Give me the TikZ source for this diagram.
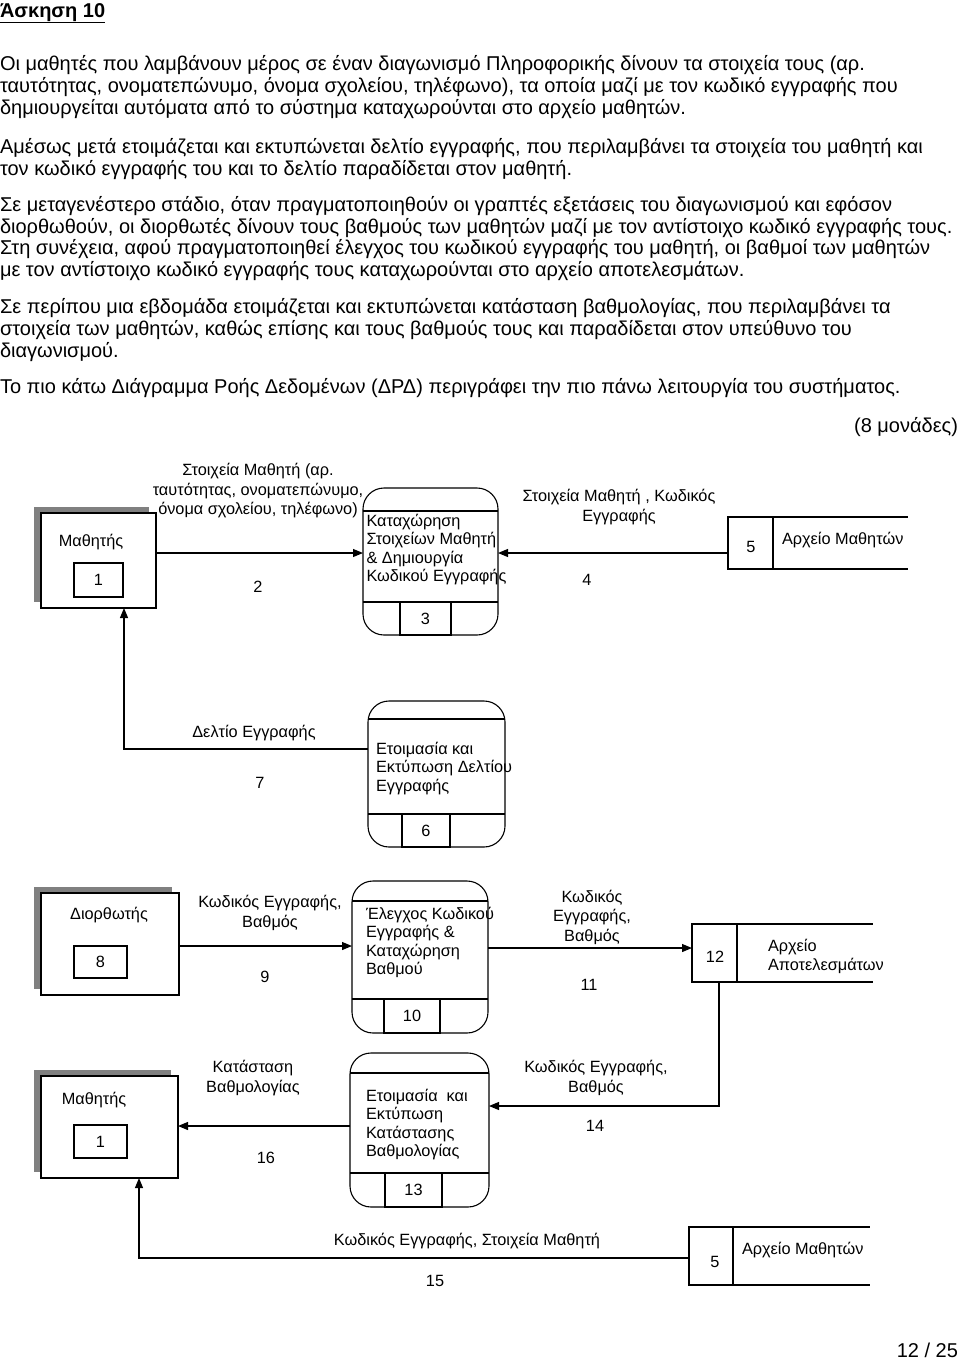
\documentclass[tikz,border=0pt]{standalone}
\usepackage{fontspec}
\setmainfont{Liberation Sans}
\usetikzlibrary{arrows.meta,calc,shadows}
\begin{document}
\begin{tikzpicture}[x=1pt,y=-1pt,
  line width=1.1pt,
  every node/.style={inner sep=0pt,outer sep=0pt},
  bodyline/.style={anchor=west,font=\fontsize{20}{22}\selectfont,text height=15pt,text depth=1pt},
  lbl/.style={font=\fontsize{16.3}{19.5}\selectfont,align=center},
  ptext/.style={font=\fontsize{16.3}{18.5}\selectfont,align=left,anchor=north west},
  ent/.style={draw,fill=white,line width=1.1pt,
     general shadow={shadow xshift=-7.5pt,shadow yshift=6pt,fill=black!50,draw=none}},
  proc/.style={draw,rounded corners=21pt,line width=1.1pt},
  numbox/.style={draw,line width=1.1pt,font=\fontsize{16.3}{19.5}\selectfont},
  flow/.style={-{Triangle[length=10pt,width=8pt]},line width=1.1pt},
  plain/.style={line width=1.1pt}
]
\useasboundingbox (0,0) rectangle (960,1361);

% ---------- text of the exercise ----------
\node[anchor=west,font=\bfseries\fontsize{20}{22}\selectfont,text height=15pt,text depth=1pt] (title) at (0,10) {\underline{Άσκηση 10}};
\node[bodyline] (b1) at (0,63) {Οι μαθητές που λαμβάνουν μέρος σε έναν διαγωνισμό Πληροφορικής δίνουν τα στοιχεία τους (αρ.};
\node[bodyline] (b2) at (0,85) {ταυτότητας, ονοματεπώνυμο, όνομα σχολείου, τηλέφωνο), τα οποία μαζί με τον κωδικό εγγραφής που};
\node[bodyline] (b3) at (0,107) {δημιουργείται αυτόματα από το σύστημα καταχωρούνται στο αρχείο μαθητών.};
\node[bodyline] (b4) at (0,146) {Αμέσως μετά ετοιμάζεται και εκτυπώνεται δελτίο εγγραφής, που περιλαμβάνει τα στοιχεία του μαθητή και};
\node[bodyline] (b5) at (0,168) {τον κωδικό εγγραφής του και το δελτίο παραδίδεται στον μαθητή.};
\node[bodyline] (b6) at (0,204) {Σε μεταγενέστερο στάδιο, όταν πραγματοποιηθούν οι γραπτές εξετάσεις του διαγωνισμού και εφόσον};
\node[bodyline] (b7) at (0,226) {διορθωθούν, οι διορθωτές δίνουν τους βαθμούς των μαθητών μαζί με τον αντίστοιχο κωδικό εγγραφής τους.};
\node[bodyline] (b8) at (0,247) {Στη συνέχεια, αφού πραγματοποιηθεί έλεγχος του κωδικού εγγραφής του μαθητή, οι βαθμοί των μαθητών};
\node[bodyline] (b9) at (0,269) {με τον αντίστοιχο κωδικό εγγραφής τους καταχωρούνται στο αρχείο αποτελεσμάτων.};
\node[bodyline] (b10) at (0,306) {Σε περίπου μια εβδομάδα ετοιμάζεται και εκτυπώνεται κατάσταση βαθμολογίας, που περιλαμβάνει τα};
\node[bodyline] (b11) at (0,328) {στοιχεία των μαθητών, καθώς επίσης και τους βαθμούς τους και παραδίδεται στον υπεύθυνο του};
\node[bodyline] (b12) at (0,350) {διαγωνισμού.};
\node[bodyline] (b13) at (0,386) {Το πιο κάτω Διάγραμμα Ροής Δεδομένων (ΔΡΔ) περιγράφει την πιο πάνω λειτουργία του συστήματος.};
\node[bodyline,anchor=east] (marks) at (958,425) {(8 μονάδες)};

% ---------- row 1 ----------
\node[ent,minimum width=115pt,minimum height=95pt] (e1) at (98.5,560.5) {};
\node[lbl] (e1t) at (91,542) {Μαθητής};
\node[numbox,minimum width=49pt,minimum height=34pt] (e1n) at (98.5,580) {1};

\node[proc,minimum width=135pt,minimum height=147pt] (p3) at (430.5,561.5) {};
\draw[plain] (p3.west |- 0,511) -- (p3.east |- 0,511);
\draw[plain] (p3.west |- 0,602) -- (p3.east |- 0,602);
\node[numbox,minimum width=51pt,minimum height=33pt] (p3n) at (425.5,618.5) {3};
\node[ptext] (p3t) at (366.5,514) {Καταχώρηση\\Στοιχείων Μαθητή\\\& Δημιουργία\\Κωδικού Εγγραφής};

\node[numbox,minimum width=45pt,minimum height=52pt] (s5a) at (750.5,543) {};
\node[font=\fontsize{16.3}{19.5}\selectfont] (s5an) at (751,547) {5};
\draw[plain] (s5a.north east) -- (s5a.north west -| 908,0);
\draw[plain] (s5a.south east) -- (s5a.south west -| 908,0);
\node[lbl,anchor=west] (s5at) at (782,540) {Αρχείο Μαθητών};

\draw[flow] ([yshift=7.5pt]e1.east) -- ([yshift=7.5pt]e1.east -| p3.west);
\node[lbl] (l2) at (258,491) {Στοιχεία Μαθητή (αρ.\\ταυτότητας, ονοματεπώνυμο,\\όνομα σχολείου, τηλέφωνο)};
\node[lbl] (n2) at (258,587) {2};

\draw[flow] ([yshift=-10pt]s5a.west) -- ([yshift=-10pt]s5a.west -| p3.east);
\node[lbl] (l4) at (619,507) {Στοιχεία Μαθητή , Κωδικός\\Εγγραφής};
\node[lbl] (n4) at (587,580) {4};

% ---------- row 2 ----------
\node[proc,minimum width=137pt,minimum height=146pt] (p6) at (436.5,774) {};
\draw[plain] (p6.west |- 0,719) -- (p6.east |- 0,719);
\draw[plain] (p6.west |- 0,814) -- (p6.east |- 0,814);
\node[numbox,minimum width=48pt,minimum height=33pt] (p6n) at (426,830.5) {6};
\node[ptext] (p6t) at (376,742) {Ετοιμασία και\\Εκτύπωση Δελτίου\\Εγγραφής};

\draw[flow] ([yshift=25pt]p6.west) -| ([xshift=25.5pt]e1.south);
\node[lbl] (l7) at (254,733) {Δελτίο Εγγραφής};
\node[lbl] (n7) at (260,783) {7};

% ---------- row 3 ----------
\node[ent,minimum width=138pt,minimum height=102pt] (e8) at (110,944) {};
\node[lbl] (e8t) at (109,915) {Διορθωτής};
\node[numbox,minimum width=53pt,minimum height=32pt] (e8n) at (100.5,962) {8};

\node[proc,minimum width=136pt,minimum height=152pt] (p10) at (420,957) {};
\draw[plain] (p10.west |- 0,901) -- (p10.east |- 0,901);
\draw[plain] (p10.west |- 0,999) -- (p10.east |- 0,999);
\node[numbox,minimum width=56pt,minimum height=34pt] (p10n) at (412,1016) {10};
\node[ptext] (p10t) at (366,907) {Έλεγχος Κωδικού\\Εγγραφής \&\\Καταχώρηση\\Βαθμού};

\draw[flow] ([yshift=-2pt]e8.east) -- ([yshift=-2pt]e8.east -| p10.west);
\node[lbl] (l9) at (270,913) {Κωδικός Εγγραφής,\\Βαθμός};
\node[lbl] (n9) at (265,977) {9};

\node[numbox,minimum width=45pt,minimum height=58pt] (s12) at (714.5,953) {};
\node[font=\fontsize{16.3}{19.5}\selectfont] (s12n) at (715,957) {12};
\draw[plain] (s12.north east) -- (s12.north west -| 873,0);
\draw[plain] (s12.south east) -- (s12.south west -| 873,0);
\node[lbl,anchor=west,align=left] (s12t) at (768,956.5) {Αρχείο\\Αποτελεσμάτων};

\draw[flow] ([yshift=9pt]p10.east) -- ([yshift=9pt]p10.east -| s12.west);
\node[lbl] (l11) at (592,917) {Κωδικός\\Εγγραφής,\\Βαθμός};
\node[lbl] (n11) at (589,985) {11};

% ---------- row 4 ----------
\node[ent,minimum width=137pt,minimum height=102pt] (e1b) at (109.5,1127) {};
\node[lbl] (e1bt) at (94,1100) {Μαθητής};
\node[numbox,minimum width=53pt,minimum height=33pt] (e1bn) at (100.5,1141.5) {1};

\node[proc,minimum width=139pt,minimum height=154pt] (p13) at (419.5,1130) {};
\draw[plain] (p13.west |- 0,1073) -- (p13.east |- 0,1073);
\draw[plain] (p13.west |- 0,1173) -- (p13.east |- 0,1173);
\node[numbox,minimum width=57pt,minimum height=34pt] (p13n) at (413.5,1190) {13};
\node[ptext] (p13t) at (366,1089) {Ετοιμασία\ \ και\\Εκτύπωση\\Κατάστασης\\Βαθμολογίας};

\draw[flow] ([yshift=4pt]p13.west) -- ([yshift=4pt]p13.west -| e1b.east);
\node[lbl] (l16) at (253,1078) {Κατάσταση\\Βαθμολογίας};
\node[lbl] (n16) at (266,1158) {16};

\draw[flow] ([xshift=4.5pt]s12.south) |- ([yshift=24pt]p13.east);
\node[lbl] (l14) at (596,1078) {Κωδικός Εγγραφής,\\Βαθμός};
\node[lbl] (n14) at (595,1126) {14};

\node[numbox,minimum width=44pt,minimum height=58pt] (s5b) at (711,1256) {};
\node[font=\fontsize{16.3}{19.5}\selectfont] (s5bn) at (715,1262) {5};
\draw[plain] (s5b.north east) -- (s5b.north west -| 870,0);
\draw[plain] (s5b.south east) -- (s5b.south west -| 870,0);
\node[lbl,anchor=west] (s5bt) at (742,1250) {Αρχείο Μαθητών};

\draw[flow] ([yshift=-2pt]s5b.west) -| ([xshift=29.5pt]e1b.south);
\node[lbl] (l15) at (467,1241) {Κωδικός Εγγραφής, Στοιχεία Μαθητή};
\node[lbl] (n15) at (435,1281) {15};

\node[anchor=east,font=\fontsize{20}{22}\selectfont,text height=15pt,text depth=1pt] (page) at (958,1350) {12 / 25};
\end{tikzpicture}
\end{document}
